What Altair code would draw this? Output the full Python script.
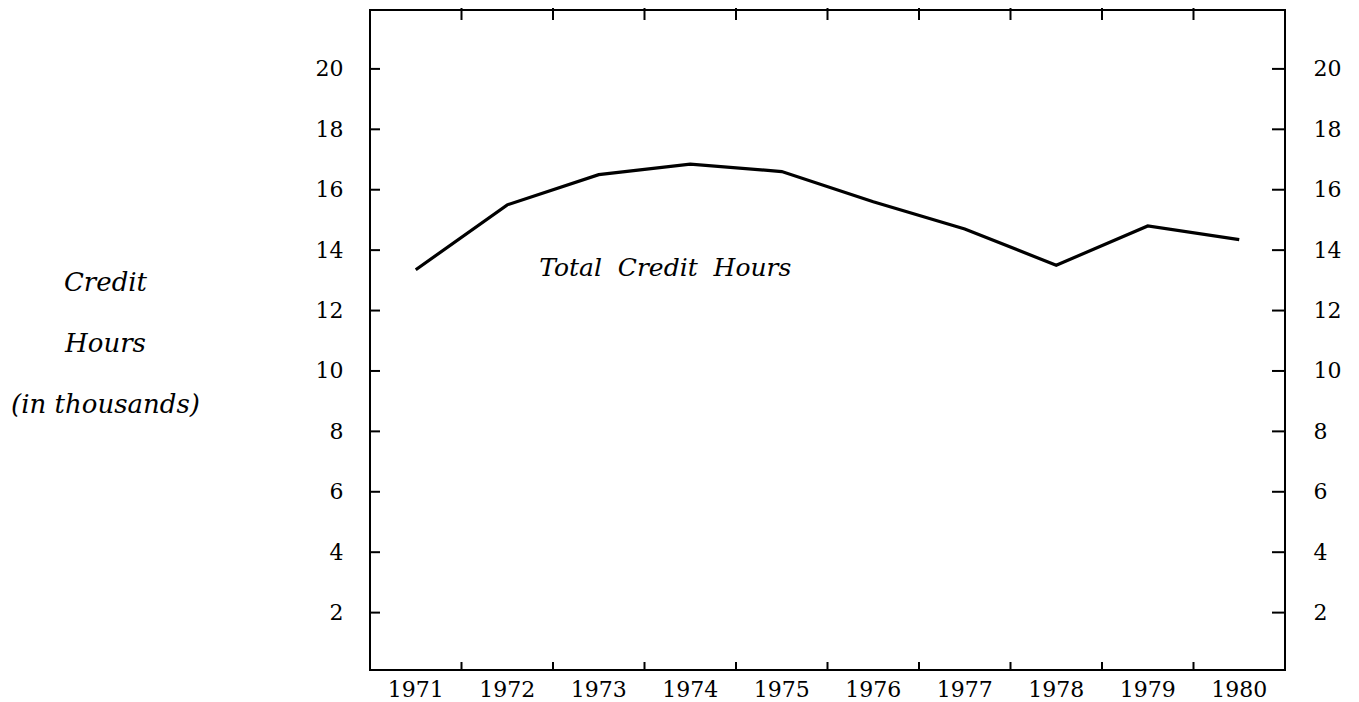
import altair as alt
import pandas as pd

years = ["1971", "1972", "1973", "1974", "1975", "1976", "1977", "1978", "1979", "1980"]
credit_hours = [13.35, 15.5, 16.5, 16.85, 16.6, 15.6, 14.7, 13.5, 14.8, 14.35]
y_ticks = [2, 4, 6, 8, 10, 12, 14, 16, 18, 20]
boundary_years = years[1:]
label_text = ["Total\u00a0\u00a0Credit\u00a0\u00a0Hours"]
label_year = ["1974"]
label_value = [13.4]

W, H = 915, 660
FONT = "DejaVu Serif"

df = pd.DataFrame({"year": years, "hours": credit_hours})
ticks_df = pd.DataFrame({"v": y_ticks})
bnd_df = pd.DataFrame({"year": boundary_years})
lab_df = pd.DataFrame({"t": label_text, "year": label_year, "v": label_value})

xscale = alt.Scale(type="band", domain=years, paddingInner=0, paddingOuter=0)
yscale = alt.Scale(domain=[0.1, 21.95], nice=False, zero=False)

x_axis = alt.Axis(ticks=False, domain=False, grid=False, labelFont=FONT, labelFontSize=22,
                  labelColor="black", labelPadding=9, labelAngle=0, title=None)
y_left_axis = alt.Axis(values=y_ticks, ticks=False, domain=False, grid=False,
                       labelFont=FONT, labelFontSize=22, labelColor="black", labelPadding=27,
                       title=["Credit", "Hours", "(in thousands)"], titleFont=FONT,
                       titleFontStyle="italic", titleFontWeight="normal", titleFontSize=26,
                       titleColor="black", titleAngle=0, titleAlign="center", titleBaseline="top",
                       titleX=-265, titleY=259, titleLineHeight=61)
y_right_axis = alt.Axis(values=y_ticks, ticks=False, domain=False, grid=False, orient="right",
                        labelFont=FONT, labelFontSize=22, labelColor="black", labelPadding=28,
                        title=None)

line = alt.Chart(df).mark_line(color="black", strokeWidth=3.2).encode(
    x=alt.X("year:O", scale=xscale, axis=x_axis, bandPosition=0.5),
    y=alt.Y("hours:Q", scale=yscale, axis=y_left_axis),
)

right_axis_layer = alt.Chart(ticks_df).mark_point(opacity=0).encode(
    y=alt.Y("v:Q", scale=yscale, axis=y_right_axis),
)

left_ticks = alt.Chart(ticks_df).mark_rule(color="black", strokeWidth=2).encode(
    y=alt.Y("v:Q", scale=yscale, axis=None), x=alt.value(0), x2=alt.value(10)
)
right_ticks = alt.Chart(ticks_df).mark_rule(color="black", strokeWidth=2).encode(
    y=alt.Y("v:Q", scale=yscale, axis=None), x=alt.value(W - 13), x2=alt.value(W)
)
bottom_ticks = alt.Chart(bnd_df).mark_rule(color="black", strokeWidth=2).encode(
    x=alt.X("year:O", scale=xscale, axis=x_axis, bandPosition=0), y=alt.value(H), y2=alt.value(H - 8)
)
top_ticks = alt.Chart(bnd_df).mark_rule(color="black", strokeWidth=2).encode(
    x=alt.X("year:O", scale=xscale, axis=x_axis, bandPosition=0), y=alt.value(-5), y2=alt.value(10)
)
label = alt.Chart(lab_df).mark_text(font=FONT, fontStyle="italic", fontSize=25, color="black",
                                    align="center", baseline="middle", dx=-25).encode(
    x=alt.X("year:O", scale=xscale, axis=x_axis, bandPosition=0.5),
    y=alt.Y("v:Q", scale=yscale, axis=None),
    text="t:N",
)

chart = alt.layer(line, left_ticks, bottom_ticks, top_ticks, label, right_ticks, right_axis_layer).resolve_scale(
    y="independent"
).properties(
    width=W, height=H,
    autosize=alt.AutoSizeParams(type="none"),
    padding={"left": 362, "top": 2, "right": 64, "bottom": 30},
    background="white",
).configure_view(stroke="black", strokeWidth=2)

chart.save("out.html", embed_options={"renderer": "svg", "actions": False})
